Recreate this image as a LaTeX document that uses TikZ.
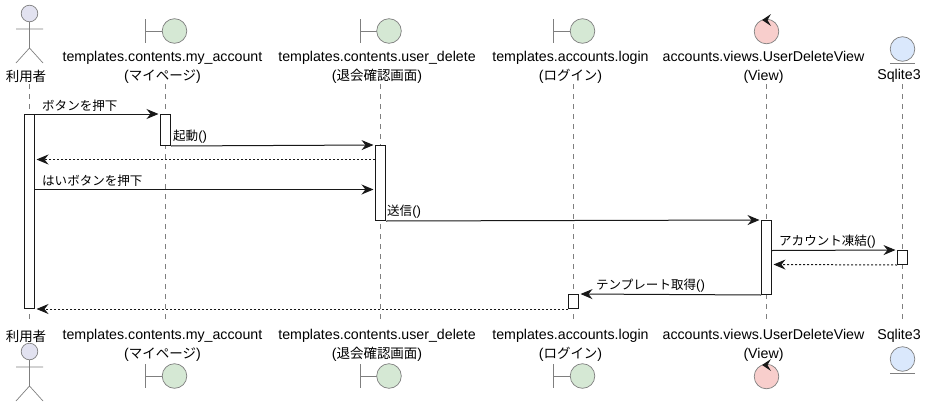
\documentclass[tikz,border=0pt]{standalone}
\usepackage{fontspec}
\usepackage{xcolor}
\usetikzlibrary{arrows.meta}
\setmainfont{Liberation Sans}
\newfontfamily\jpfont[Scale=0.95]{Noto Sans CJK JP}
\definecolor{actorfill}{HTML}{E2E2F0}
\definecolor{boundaryfill}{HTML}{D5E8D4}
\definecolor{controlfill}{HTML}{F8CECC}
\definecolor{entityfill}{HTML}{DAE8FC}
\definecolor{edgegray}{HTML}{7F7F7F}
\definecolor{msgblack}{HTML}{181818}
\tikzset{
  label/.style={inner sep=0pt, align=center, font=\fontsize{14.2}{19}\selectfont},
  msglabel/.style={inner sep=0pt, anchor=west, font=\fontsize{13.2}{15}\selectfont},
  life/.style={edgegray, line width=0.8pt, dash pattern=on 5pt off 5pt},
  bar/.style={draw=msgblack, fill=white, line width=1pt, inner sep=0pt, minimum width=10pt},
  msg/.style={msgblack, line width=1pt, -{Stealth[length=12pt,width=10pt,inset=4pt]}, shorten >=1.5pt},
  reply/.style={msg, dash pattern=on 2pt off 2pt},
  icon/.style={draw=edgegray, line width=0.7pt},
}
\begin{document}
\begin{tikzpicture}[x=1pt, y=-1pt]
        \useasboundingbox (0,0) rectangle (927,407);

        % lifeline ends
        \foreach \name/\xpos in {user/29.5, my/165.5, del/380.5, login/573.5, view/766.5, db/902.5} {
            \coordinate (\name top) at (\xpos,84);
            \coordinate (\name bot) at (\xpos,322);
            \draw[life] (\name top) -- (\name bot);
        }

        % Draw the labels at the top and the bottom
        \foreach \row/\yone/\ytwo in {t/76/67, b/336/345} {
            \node[label] (user\row) at (26,\yone) {\jpfont 利用者};
            \node[label] (my\row) at (162.5,\ytwo) {templates.contents.my\_account\\({\jpfont マイページ})};
            \node[label] (del\row) at (377,\ytwo) {templates.contents.user\_delete\\({\jpfont 退会確認画面})};
            \node[label] (login\row) at (570.5,\ytwo) {templates.accounts.login\\({\jpfont ログイン})};
            \node[label] (view\row) at (763.5,\ytwo) {accounts.views.UserDeleteView\\(View)};
            \node[label] (db\row) at (899,\yone) {Sqlite3};
        }

        % Draw the actor, boundaries, control and entity icons
        \foreach \ypos in {0, 338} {
            \begin{scope}[yshift=-\ypos pt]
                \draw[icon, fill=actorfill] (29.5,13.5) circle (8.3);
                \draw[icon] (29.5,22) -- (29.5,48) (16,29) -- (43,29) (16,63) -- (29.5,48) -- (43,63);
            \end{scope}
        }
        \foreach \ypos in {0, 345} {
            \begin{scope}[yshift=-\ypos pt]
                \foreach \xpos in {145.5, 360, 553.5} {
                    \draw[icon] (\xpos,19) -- (\xpos,43) (\xpos,31) -- (\xpos+17,31);
                    \draw[icon, fill=boundaryfill] (\xpos+29,31) circle (12.3);
                }
                \draw[icon, fill=controlfill] (766.5,31.5) circle (12.3);
                \fill[msgblack] (762,20) -- (771,14) -- (767.5,20) -- (771,26) -- cycle;
            \end{scope}
        }
        \foreach \ypos in {0, 310} {
            \begin{scope}[yshift=-\ypos pt]
                \draw[icon, fill=entityfill] (902.5,49) circle (12.3);
                \draw[icon] (890,63) -- (915,63);
            \end{scope}
        }

        % Draw the activation bars
        \node[bar, minimum height=194pt] (baruser) at (29.5,211.5) {};
        \node[bar, minimum height=31pt] (barmy) at (165.5,130) {};
        \node[bar, minimum height=75pt] (bardel) at (380.5,183) {};
        \node[bar, minimum height=74pt] (barview) at (766.5,257.5) {};
        \node[bar, minimum height=14pt] (bardb) at (902.5,257.5) {};
        \node[bar, minimum height=14pt] (barlogin) at (573.5,301.5) {};

        % rows of the messages that leave a bar half way
        \coordinate (row1) at (0,159.5);
        \coordinate (row2) at (0,189.5);
        \coordinate (row3) at (0,250.5);
        \coordinate (row4) at (0,264.5);

        % Draw the messages and label them
        \draw[msg] (baruser.north east) -- (barmy.north west);
        \node[msglabel] (m1) at (42,105.5) {\jpfont ボタンを押下};
        \draw[msg] (barmy.south east) -- (bardel.north west);
        \node[msglabel] (m2) at (173,136.5) {{\jpfont 起動}()};
        \draw[reply] (bardel.west |- row1) -- (baruser.east |- row1);
        \draw[msg] (baruser.east |- row2) -- (bardel.west |- row2);
        \node[msglabel] (m3) at (42,180.5) {\jpfont はいボタンを押下};
        \draw[msg] (bardel.south east) -- (barview.north west);
        \node[msglabel] (m4) at (387,211.5) {{\jpfont 送信}()};
        \draw[msg] (barview.east |- row3) -- (bardb.north west);
        \node[msglabel] (m5) at (779,241.5) {{\jpfont アカウント凍結}()};
        \draw[reply] (bardb.south west) -- (barview.east |- row4);
        \draw[msg] (barview.south west) -- (barlogin.north east);
        \node[msglabel] (m6) at (596,285.5) {{\jpfont テンプレート取得}()};
        \draw[reply] (barlogin.south west) -- (baruser.south east);
    \end{tikzpicture}
\end{document}
